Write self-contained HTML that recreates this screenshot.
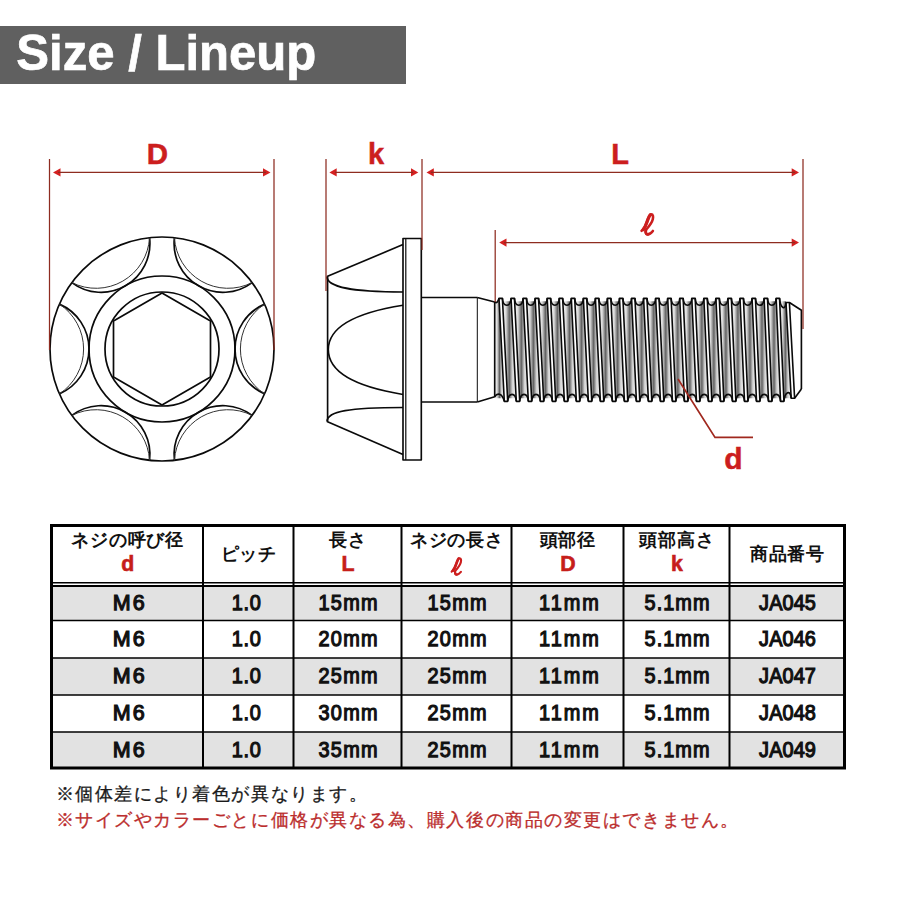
<!DOCTYPE html>
<html><head><meta charset="utf-8">
<style>
*{margin:0;padding:0;box-sizing:border-box}
html,body{width:900px;height:900px;background:#fff;overflow:hidden}
body{position:relative;font-family:"Liberation Sans",sans-serif}
#hdr{position:absolute;left:0;top:26px;width:406px;height:58px;background:#606060}
#hdr span{position:absolute;left:16.3px;top:-2px;font-size:49.1px;-webkit-text-stroke:0.7px #fff;font-weight:bold;color:#fff;line-height:58px;white-space:nowrap}
svg{position:absolute;left:0;top:0}
.t{position:absolute;text-align:center;white-space:nowrap;color:#111}
.h{font-size:18.4px;font-weight:bold;line-height:22px;letter-spacing:0.7px;text-indent:0.7px}
.r{color:#c61e1a;font-size:21.3px;font-weight:bold;line-height:22px;-webkit-text-stroke:0.6px #c61e1a}
.c{font-size:22.6px;font-weight:normal;line-height:37px;-webkit-text-stroke:1.25px #111}
.note{position:absolute;left:55.5px;font-size:18px;letter-spacing:1.55px;-webkit-text-stroke:0.3px currentColor;white-space:nowrap;line-height:22px}
</style></head><body>
<div id="hdr"><span>Size / Lineup</span></div>
<svg width="900" height="900" viewBox="0 0 900 900">
<defs><linearGradient id="band" x1="0" y1="0" x2="1" y2="0"><stop offset="0" stop-color="#fafafa"/><stop offset="0.25" stop-color="#dadada"/><stop offset="0.5" stop-color="#626262"/><stop offset="0.72" stop-color="#d4d4d4"/><stop offset="1" stop-color="#f6f6f6"/></linearGradient></defs>
<rect x="52" y="587" width="792" height="33.5" fill="#e2e2e2"/>
<rect x="52" y="658" width="792" height="37" fill="#e2e2e2"/>
<rect x="52" y="732" width="792" height="35" fill="#e2e2e2"/>
<line x1="203" y1="525" x2="203" y2="768" stroke="#000" stroke-width="2"/>
<line x1="293.5" y1="525" x2="293.5" y2="768" stroke="#000" stroke-width="2"/>
<line x1="401.5" y1="525" x2="401.5" y2="768" stroke="#000" stroke-width="2"/>
<line x1="511.5" y1="525" x2="511.5" y2="768" stroke="#000" stroke-width="2"/>
<line x1="623.5" y1="525" x2="623.5" y2="768" stroke="#000" stroke-width="2"/>
<line x1="729.5" y1="525" x2="729.5" y2="768" stroke="#000" stroke-width="2"/>
<line x1="52" y1="620.5" x2="845" y2="620.5" stroke="#000" stroke-width="1.6"/>
<line x1="52" y1="658" x2="845" y2="658" stroke="#000" stroke-width="1.6"/>
<line x1="52" y1="695" x2="845" y2="695" stroke="#000" stroke-width="1.6"/>
<line x1="52" y1="732" x2="845" y2="732" stroke="#000" stroke-width="1.6"/>
<line x1="52" y1="582.7" x2="845" y2="582.7" stroke="#000" stroke-width="1.6"/>
<line x1="52" y1="586" x2="845" y2="586" stroke="#000" stroke-width="2"/>
<rect x="51.5" y="525.5" width="793" height="242.5" fill="none" stroke="#000" stroke-width="3"/>

<g fill="#d42020">
  <polygon points="53,172.4 60.5,168.2 60.5,176.6"/>
  <polygon points="270.5,172.4 263,168.2 263,176.6"/>
  <polygon points="329.4,172.4 336.7,168.2 336.7,176.6"/>
  <polygon points="418.3,172.4 411,168.2 411,176.6"/>
  <polygon points="426.5,172.4 433.8,168.2 433.8,176.6"/>
  <polygon points="799,172.4 791.7,168.2 791.7,176.6"/>
  <polygon points="499.2,242.6 506.5,238.4 506.5,246.8"/>
  <polygon points="799,242.6 791.7,238.4 791.7,246.8"/>
</g>
<g fill="#cc1e1e" stroke="#cc1e1e" stroke-width="0.5" font-family="Liberation Sans" font-weight="bold">
  <text x="157.5" y="163.8" font-size="29.5" text-anchor="middle">D</text>
  <text x="376" y="163.5" font-size="29" text-anchor="middle">k</text>
  <text x="620" y="164.2" font-size="29" text-anchor="middle">L</text>
  <text x="733.4" y="468.5" font-size="30" text-anchor="middle">d</text>
</g>
<g id="ell" fill="none" stroke="#cc1e1e" stroke-linecap="round" stroke-linejoin="round"><path d="M641.6,230.8 C643.5,229.5 645.3,226.5 646.8,222.3 C648.3,217.8 649.5,214.4 651.3,214.4 C653,214.4 653.4,216.5 652.8,219.2 C652,222.6 648.8,226.6 646.3,229.5 C645.2,231.5 645.5,234.4 647.7,234.4 C649.7,234.4 651.2,233.1 652.9,231" stroke-width="2.6"/><path d="M643.2,229.6 C644.8,227.8 646,225 647,222 C648.2,218.5 649,216 650.2,214.8" stroke-width="3.3"/><path d="M645.7,231 C645.6,233.5 646.5,234.3 648,234.3" stroke-width="2.8"/></g>
<use href="#ell" transform="translate(456.5,566.5) scale(0.82) translate(-647.5,-224.5)"/>
<g id="front" stroke="#0a0a0a" stroke-width="1.7" fill="none">
<circle cx="162" cy="349" r="112"/>
<circle cx="162" cy="349" r="73"/>
<circle cx="162" cy="349" r="57"/>
<polygon points="162,293 113.5,321 113.5,377 162,405 210.5,377 210.5,321"/>
<path d="M264.62,304.13 A48.8,48.8 0 0 0 264.62,393.87"/>
<path d="M264.62,304.13 A53.68,53.68 0 0 0 264.62,393.87" stroke-width="1" stroke="#333"/>
<path d="M174.45,237.69 A48.8,48.8 0 0 0 252.17,282.57"/>
<path d="M174.45,237.69 A53.68,53.68 0 0 0 252.17,282.57" stroke-width="1" stroke="#333"/>
<path d="M71.83,282.57 A48.8,48.8 0 0 0 149.55,237.69"/>
<path d="M71.83,282.57 A53.68,53.68 0 0 0 149.55,237.69" stroke-width="1" stroke="#333"/>
<path d="M59.38,393.87 A48.8,48.8 0 0 0 59.38,304.13"/>
<path d="M59.38,393.87 A53.68,53.68 0 0 0 59.38,304.13" stroke-width="1" stroke="#333"/>
<path d="M149.55,460.31 A48.8,48.8 0 0 0 71.83,415.43"/>
<path d="M149.55,460.31 A53.68,53.68 0 0 0 71.83,415.43" stroke-width="1" stroke="#333"/>
<path d="M252.17,415.43 A48.8,48.8 0 0 0 174.45,460.31"/>
<path d="M252.17,415.43 A53.68,53.68 0 0 0 174.45,460.31" stroke-width="1" stroke="#333"/>
</g>
<g id="side" stroke="#0a0a0a" stroke-width="1.65" fill="none" stroke-linejoin="round">
<rect x="403" y="238.5" width="18.3" height="221.5"/>
<line x1="405.8" y1="239" x2="405.8" y2="460" stroke-width="1.2"/>
<path d="M403,244.6 L327,276.5"/>
<path d="M403,454.5 L327,421.5"/>
<path d="M327.6,276.5 L327.6,421.5"/>
<path d="M327,276.5 C327,287 350,291.8 403,292"/>
<path d="M327,421.5 C327,411 350,407.6 403,407.5"/>
<path d="M403,305.2 C360,312 328.3,325 328.3,349.6 C328.3,374 360,387.5 403,394.5"/>
<path d="M421.3,297.5 L477.3,297.5 M421.3,402 L477.3,402"/>
<line x1="477.3" y1="297.5" x2="477.3" y2="402" stroke-width="1"/>
<polygon points="494.7,301.3 499,301.3 504.3,398.3 494.7,398.3" fill="url(#band)" stroke="none"/>
<polygon points="502.4,301.3 511.05,301.3 516.31,398.3 507.7,398.3" fill="url(#band)" stroke="none"/>
<polygon points="514.45,301.3 523.1,301.3 528.32,398.3 519.71,398.3" fill="url(#band)" stroke="none"/>
<polygon points="526.5,301.3 535.15,301.3 540.33,398.3 531.72,398.3" fill="url(#band)" stroke="none"/>
<polygon points="538.55,301.3 547.2,301.3 552.34,398.3 543.73,398.3" fill="url(#band)" stroke="none"/>
<polygon points="550.6,301.3 559.25,301.3 564.35,398.3 555.74,398.3" fill="url(#band)" stroke="none"/>
<polygon points="562.65,301.3 571.3,301.3 576.36,398.3 567.75,398.3" fill="url(#band)" stroke="none"/>
<polygon points="574.7,301.3 583.35,301.3 588.37,398.3 579.76,398.3" fill="url(#band)" stroke="none"/>
<polygon points="586.75,301.3 595.4,301.3 600.38,398.3 591.77,398.3" fill="url(#band)" stroke="none"/>
<polygon points="598.8,301.3 607.45,301.3 612.39,398.3 603.78,398.3" fill="url(#band)" stroke="none"/>
<polygon points="610.85,301.3 619.5,301.3 624.4,398.3 615.79,398.3" fill="url(#band)" stroke="none"/>
<polygon points="622.9,301.3 631.55,301.3 636.41,398.3 627.8,398.3" fill="url(#band)" stroke="none"/>
<polygon points="634.95,301.3 643.6,301.3 648.42,398.3 639.81,398.3" fill="url(#band)" stroke="none"/>
<polygon points="647,301.3 655.65,301.3 660.43,398.3 651.82,398.3" fill="url(#band)" stroke="none"/>
<polygon points="659.05,301.3 667.7,301.3 672.44,398.3 663.83,398.3" fill="url(#band)" stroke="none"/>
<polygon points="671.1,301.3 679.75,301.3 684.45,398.3 675.84,398.3" fill="url(#band)" stroke="none"/>
<polygon points="683.15,301.3 691.8,301.3 696.46,398.3 687.85,398.3" fill="url(#band)" stroke="none"/>
<polygon points="695.2,301.3 703.85,301.3 708.47,398.3 699.86,398.3" fill="url(#band)" stroke="none"/>
<polygon points="707.25,301.3 715.9,301.3 720.48,398.3 711.87,398.3" fill="url(#band)" stroke="none"/>
<polygon points="719.3,301.3 727.95,301.3 732.49,398.3 723.88,398.3" fill="url(#band)" stroke="none"/>
<polygon points="731.35,301.3 740,301.3 744.5,398.3 735.89,398.3" fill="url(#band)" stroke="none"/>
<polygon points="743.4,301.3 752.05,301.3 756.51,398.3 747.9,398.3" fill="url(#band)" stroke="none"/>
<polygon points="755.45,301.3 764.1,301.3 768.52,398.3 759.91,398.3" fill="url(#band)" stroke="none"/>
<polygon points="767.5,301.3 776.15,301.3 780.53,398.3 771.92,398.3" fill="url(#band)" stroke="none"/>
<polygon points="779.55,301.3 786,301.3 791.2,398.3 783.93,398.3" fill="url(#band)" stroke="none"/>
<polygon points="789.4,302.5 801.4,310.3 801.4,388.9 794.6,398.2" fill="#fff" stroke="none"/>
<path d="M477.3,297.5 L494.7,302 C496.5,303.5 498,302 499,298.3 L502.4,298.3 C503.1,307.6 510.35,307.6 511.05,298.3 L514.45,298.3 C515.15,307.6 522.4,307.6 523.1,298.3 L526.5,298.3 C527.2,307.6 534.45,307.6 535.15,298.3 L538.55,298.3 C539.25,307.6 546.5,307.6 547.2,298.3 L550.6,298.3 C551.3,307.6 558.55,307.6 559.25,298.3 L562.65,298.3 C563.35,307.6 570.6,307.6 571.3,298.3 L574.7,298.3 C575.4,307.6 582.65,307.6 583.35,298.3 L586.75,298.3 C587.45,307.6 594.7,307.6 595.4,298.3 L598.8,298.3 C599.5,307.6 606.75,307.6 607.45,298.3 L610.85,298.3 C611.55,307.6 618.8,307.6 619.5,298.3 L622.9,298.3 C623.6,307.6 630.85,307.6 631.55,298.3 L634.95,298.3 C635.65,307.6 642.9,307.6 643.6,298.3 L647,298.3 C647.7,307.6 654.95,307.6 655.65,298.3 L659.05,298.3 C659.75,307.6 667,307.6 667.7,298.3 L671.1,298.3 C671.8,307.6 679.05,307.6 679.75,298.3 L683.15,298.3 C683.85,307.6 691.1,307.6 691.8,298.3 L695.2,298.3 C695.9,307.6 703.15,307.6 703.85,298.3 L707.25,298.3 C707.95,307.6 715.2,307.6 715.9,298.3 L719.3,298.3 C720,307.6 727.25,307.6 727.95,298.3 L731.35,298.3 C732.05,307.6 739.3,307.6 740,298.3 L743.4,298.3 C744.1,307.6 751.35,307.6 752.05,298.3 L755.45,298.3 C756.15,307.6 763.4,307.6 764.1,298.3 L767.5,298.3 C768.2,307.6 775.45,307.6 776.15,298.3 L779.55,298.3 C780.25,307.6 785.3,311.8 786,302.5 L789.4,302.5 L801.4,310.3 L801.4,388.9" fill="none"/>
<path d="M477.3,402 L494.7,396.7 C497,393 502,392.5 504.3,401.3 L507.7,401.3 C508.4,392 515.61,392 516.31,401.3 L519.71,401.3 C520.41,392 527.62,392 528.32,401.3 L531.72,401.3 C532.42,392 539.63,392 540.33,401.3 L543.73,401.3 C544.43,392 551.64,392 552.34,401.3 L555.74,401.3 C556.44,392 563.65,392 564.35,401.3 L567.75,401.3 C568.45,392 575.66,392 576.36,401.3 L579.76,401.3 C580.46,392 587.67,392 588.37,401.3 L591.77,401.3 C592.47,392 599.68,392 600.38,401.3 L603.78,401.3 C604.48,392 611.69,392 612.39,401.3 L615.79,401.3 C616.49,392 623.7,392 624.4,401.3 L627.8,401.3 C628.5,392 635.71,392 636.41,401.3 L639.81,401.3 C640.51,392 647.72,392 648.42,401.3 L651.82,401.3 C652.52,392 659.73,392 660.43,401.3 L663.83,401.3 C664.53,392 671.74,392 672.44,401.3 L675.84,401.3 C676.54,392 683.75,392 684.45,401.3 L687.85,401.3 C688.55,392 695.76,392 696.46,401.3 L699.86,401.3 C700.56,392 707.77,392 708.47,401.3 L711.87,401.3 C712.57,392 719.78,392 720.48,401.3 L723.88,401.3 C724.58,392 731.79,392 732.49,401.3 L735.89,401.3 C736.59,392 743.8,392 744.5,401.3 L747.9,401.3 C748.6,392 755.81,392 756.51,401.3 L759.91,401.3 C760.61,392 767.82,392 768.52,401.3 L771.92,401.3 C772.62,392 779.83,392 780.53,401.3 L783.93,401.3 C784.63,392 790.5,388.9 791.2,398.2 L794.6,398.2 L801.4,388.9" fill="none"/>
<path d="M499,298.3 L504.3,401.3 M502.4,298.3 L507.7,401.3 M511.05,298.3 L516.31,401.3 M514.45,298.3 L519.71,401.3 M523.1,298.3 L528.32,401.3 M526.5,298.3 L531.72,401.3 M535.15,298.3 L540.33,401.3 M538.55,298.3 L543.73,401.3 M547.2,298.3 L552.34,401.3 M550.6,298.3 L555.74,401.3 M559.25,298.3 L564.35,401.3 M562.65,298.3 L567.75,401.3 M571.3,298.3 L576.36,401.3 M574.7,298.3 L579.76,401.3 M583.35,298.3 L588.37,401.3 M586.75,298.3 L591.77,401.3 M595.4,298.3 L600.38,401.3 M598.8,298.3 L603.78,401.3 M607.45,298.3 L612.39,401.3 M610.85,298.3 L615.79,401.3 M619.5,298.3 L624.4,401.3 M622.9,298.3 L627.8,401.3 M631.55,298.3 L636.41,401.3 M634.95,298.3 L639.81,401.3 M643.6,298.3 L648.42,401.3 M647,298.3 L651.82,401.3 M655.65,298.3 L660.43,401.3 M659.05,298.3 L663.83,401.3 M667.7,298.3 L672.44,401.3 M671.1,298.3 L675.84,401.3 M679.75,298.3 L684.45,401.3 M683.15,298.3 L687.85,401.3 M691.8,298.3 L696.46,401.3 M695.2,298.3 L699.86,401.3 M703.85,298.3 L708.47,401.3 M707.25,298.3 L711.87,401.3 M715.9,298.3 L720.48,401.3 M719.3,298.3 L723.88,401.3 M727.95,298.3 L732.49,401.3 M731.35,298.3 L735.89,401.3 M740,298.3 L744.5,401.3 M743.4,298.3 L747.9,401.3 M752.05,298.3 L756.51,401.3 M755.45,298.3 L759.91,401.3 M764.1,298.3 L768.52,401.3 M767.5,298.3 L771.92,401.3 M776.15,298.3 L780.53,401.3 M779.55,298.3 L783.93,401.3 M786,302.5 L791.2,398.2 M789.4,302.5 L794.6,398.2" stroke-width="1.6" fill="none"/>
<line x1="494.7" y1="302" x2="494.7" y2="396.7"/>
</g>
<g id="dims" stroke="#8e2c20" stroke-width="1.25" fill="none">
  <line x1="49.5" y1="159" x2="49.5" y2="350"/>
  <line x1="274" y1="159" x2="274" y2="350"/>
  <line x1="58" y1="172.4" x2="266" y2="172.4"/>
  <line x1="326" y1="159" x2="326" y2="291"/>
  <line x1="422" y1="159" x2="422" y2="250"/>
  <line x1="335" y1="172.4" x2="413" y2="172.4"/>
  <line x1="431" y1="172.4" x2="795" y2="172.4"/>
  <line x1="803" y1="159" x2="803" y2="329"/>
  <line x1="495.2" y1="230" x2="495.2" y2="302"/>
  <line x1="504" y1="242.6" x2="795" y2="242.6"/>
</g>
<polyline points="678,379 715,437.4 753,437.4" stroke="#a0281e" stroke-width="1.7" fill="none"/>
</svg>
<div class="t h" style="left:51.5px;width:151.5px;top:529px">ネジの呼び径</div>
<div class="t r" style="left:51.5px;width:151.5px;top:552.8px;text-indent:1px">d</div>
<div class="t h" style="left:203px;width:90.5px;top:543px">ピッチ</div>
<div class="t h" style="left:293.5px;width:108px;top:529px">長さ</div>
<div class="t r" style="left:293.5px;width:108px;top:552.8px;text-indent:1px">L</div>
<div class="t h" style="left:401.5px;width:110px;top:529px">ネジの長さ</div>
<div class="t h" style="left:511.5px;width:112px;top:529px">頭部径</div>
<div class="t r" style="left:511.5px;width:112px;top:552.8px;text-indent:1px">D</div>
<div class="t h" style="left:623.5px;width:106px;top:529px">頭部高さ</div>
<div class="t r" style="left:623.5px;width:106px;top:552.8px;text-indent:1px">k</div>
<div class="t h" style="left:729.5px;width:115px;top:543px">商品番号</div>
<div class="t c" style="left:52.5px;width:151.5px;top:583.5px;transform:scaleX(0.95);letter-spacing:2.05px;text-indent:2.05px">M6</div>
<div class="t c" style="left:201px;width:90.5px;top:583.5px;transform:scaleX(0.88);letter-spacing:0.85px;text-indent:0.85px">1.0</div>
<div class="t c" style="left:293.9px;width:108px;top:583.5px;transform:scaleX(0.88);letter-spacing:1.48px;text-indent:1.48px">15mm</div>
<div class="t c" style="left:401.9px;width:110px;top:583.5px;transform:scaleX(0.88);letter-spacing:1.48px;text-indent:1.48px">15mm</div>
<div class="t c" style="left:512.5px;width:112px;top:583.5px;transform:scaleX(0.88);letter-spacing:2.3px;text-indent:2.3px">11mm</div>
<div class="t c" style="left:624.2px;width:106px;top:583.5px;transform:scaleX(0.88);letter-spacing:1.18px;text-indent:1.18px">5.1mm</div>
<div class="t c" style="left:729.9px;width:115px;top:583.5px;transform:scaleX(0.88);letter-spacing:0.13px;text-indent:0.13px">JA045</div>
<div class="t c" style="left:52.5px;width:151.5px;top:620.1px;transform:scaleX(0.95);letter-spacing:2.05px;text-indent:2.05px">M6</div>
<div class="t c" style="left:201px;width:90.5px;top:620.1px;transform:scaleX(0.88);letter-spacing:0.85px;text-indent:0.85px">1.0</div>
<div class="t c" style="left:293.9px;width:108px;top:620.1px;transform:scaleX(0.88);letter-spacing:1.48px;text-indent:1.48px">20mm</div>
<div class="t c" style="left:401.9px;width:110px;top:620.1px;transform:scaleX(0.88);letter-spacing:1.48px;text-indent:1.48px">20mm</div>
<div class="t c" style="left:512.5px;width:112px;top:620.1px;transform:scaleX(0.88);letter-spacing:2.3px;text-indent:2.3px">11mm</div>
<div class="t c" style="left:624.2px;width:106px;top:620.1px;transform:scaleX(0.88);letter-spacing:1.18px;text-indent:1.18px">5.1mm</div>
<div class="t c" style="left:729.9px;width:115px;top:620.1px;transform:scaleX(0.88);letter-spacing:0.13px;text-indent:0.13px">JA046</div>
<div class="t c" style="left:52.5px;width:151.5px;top:657px;transform:scaleX(0.95);letter-spacing:2.05px;text-indent:2.05px">M6</div>
<div class="t c" style="left:201px;width:90.5px;top:657px;transform:scaleX(0.88);letter-spacing:0.85px;text-indent:0.85px">1.0</div>
<div class="t c" style="left:293.9px;width:108px;top:657px;transform:scaleX(0.88);letter-spacing:1.48px;text-indent:1.48px">25mm</div>
<div class="t c" style="left:401.9px;width:110px;top:657px;transform:scaleX(0.88);letter-spacing:1.48px;text-indent:1.48px">25mm</div>
<div class="t c" style="left:512.5px;width:112px;top:657px;transform:scaleX(0.88);letter-spacing:2.3px;text-indent:2.3px">11mm</div>
<div class="t c" style="left:624.2px;width:106px;top:657px;transform:scaleX(0.88);letter-spacing:1.18px;text-indent:1.18px">5.1mm</div>
<div class="t c" style="left:729.9px;width:115px;top:657px;transform:scaleX(0.88);letter-spacing:0.13px;text-indent:0.13px">JA047</div>
<div class="t c" style="left:52.5px;width:151.5px;top:694px;transform:scaleX(0.95);letter-spacing:2.05px;text-indent:2.05px">M6</div>
<div class="t c" style="left:201px;width:90.5px;top:694px;transform:scaleX(0.88);letter-spacing:0.85px;text-indent:0.85px">1.0</div>
<div class="t c" style="left:293.9px;width:108px;top:694px;transform:scaleX(0.88);letter-spacing:1.48px;text-indent:1.48px">30mm</div>
<div class="t c" style="left:401.9px;width:110px;top:694px;transform:scaleX(0.88);letter-spacing:1.48px;text-indent:1.48px">25mm</div>
<div class="t c" style="left:512.5px;width:112px;top:694px;transform:scaleX(0.88);letter-spacing:2.3px;text-indent:2.3px">11mm</div>
<div class="t c" style="left:624.2px;width:106px;top:694px;transform:scaleX(0.88);letter-spacing:1.18px;text-indent:1.18px">5.1mm</div>
<div class="t c" style="left:729.9px;width:115px;top:694px;transform:scaleX(0.88);letter-spacing:0.13px;text-indent:0.13px">JA048</div>
<div class="t c" style="left:52.5px;width:151.5px;top:731.1px;transform:scaleX(0.95);letter-spacing:2.05px;text-indent:2.05px">M6</div>
<div class="t c" style="left:201px;width:90.5px;top:731.1px;transform:scaleX(0.88);letter-spacing:0.85px;text-indent:0.85px">1.0</div>
<div class="t c" style="left:293.9px;width:108px;top:731.1px;transform:scaleX(0.88);letter-spacing:1.48px;text-indent:1.48px">35mm</div>
<div class="t c" style="left:401.9px;width:110px;top:731.1px;transform:scaleX(0.88);letter-spacing:1.48px;text-indent:1.48px">25mm</div>
<div class="t c" style="left:512.5px;width:112px;top:731.1px;transform:scaleX(0.88);letter-spacing:2.3px;text-indent:2.3px">11mm</div>
<div class="t c" style="left:624.2px;width:106px;top:731.1px;transform:scaleX(0.88);letter-spacing:1.18px;text-indent:1.18px">5.1mm</div>
<div class="t c" style="left:729.9px;width:115px;top:731.1px;transform:scaleX(0.88);letter-spacing:0.13px;text-indent:0.13px">JA049</div>
<div class="note" style="top:783.3px;color:#1a1a1a">※個体差により着色が異なります。</div>
<div class="note" style="top:808.7px;color:#bb2d2d">※サイズやカラーごとに価格が異なる為、購入後の商品の変更はできません。</div>
</body></html>
